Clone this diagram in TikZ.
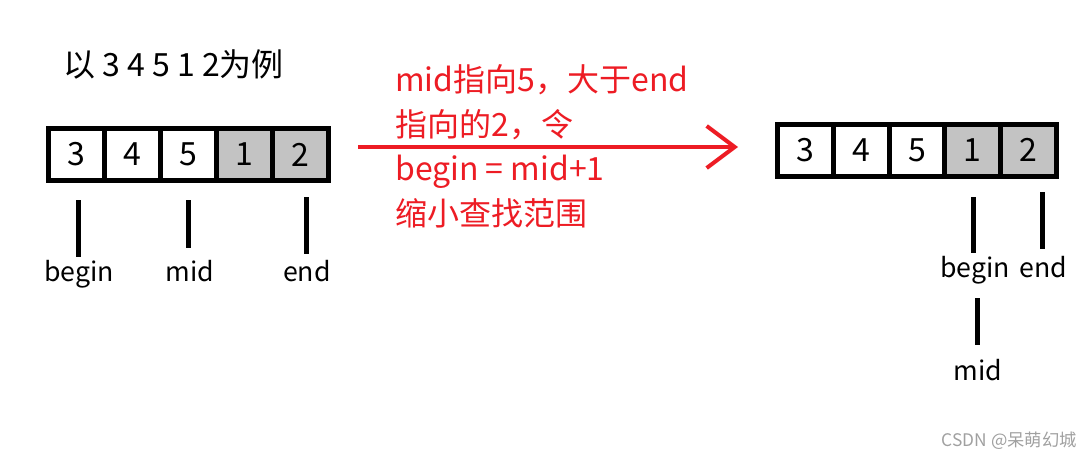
\documentclass[tikz,border=0pt]{standalone}
\usepackage{fontspec}
\setmainfont{Noto Sans CJK SC}
\usetikzlibrary{arrows.meta}
\definecolor{rosso}{RGB}{237,28,36}
\definecolor{grigio}{RGB}{195,195,195}
\definecolor{filigrana}{RGB}{160,160,160}
\begin{document}
\begin{tikzpicture}[x=0.75pt, y=-0.75pt,
        cella/.style={draw, line width=3.75pt, minimum width=42pt, minimum height=39pt, inner sep=0pt, font=\fontsize{24}{28}\selectfont},
        piena/.style={cella, fill=grigio},
        tacca/.style={line width=3.75pt},
        etichetta/.style={anchor=base, inner sep=0pt, font=\fontsize{20}{24}\selectfont},
        testo_rosso/.style={anchor=base west, inner sep=0pt, text=rosso, font=\fontsize{24}{28}\selectfont},
        freccia/.style={draw=rosso, line width=3pt, -{Straight Barb[length=21pt, width=31.5pt]}}]
        \useasboundingbox (0,0) rectangle (1092,460);

        % Titolo
        \node[anchor=base west, inner sep=0pt, font=\fontsize{24}{28}\selectfont] (titolo) at (63,77) {以 3 4 5 1 2为例};

        % Array di sinistra
        \node[cella] (s1_node) at (76.5,154.5) {3};
        \node[cella] (s2_node) at (132.5,154.5) {4};
        \node[cella] (s3_node) at (188.5,154.5) {5};
        \node[piena] (s4_node) at (244.5,154.5) {1};
        \node[piena] (s5_node) at (300.5,154.5) {2};

        % Puntatori di sinistra
        \coordinate (sb_top) at (78,200);
        \coordinate (sb_bot) at (78,257);
        \coordinate (sm_top) at (188,200);
        \coordinate (sm_bot) at (188,248);
        \coordinate (se_top) at (306,197);
        \coordinate (se_bot) at (306,254);
        \node[etichetta] (sbegin_node) at (79,281) {begin};
        \node[etichetta] (smid_node) at (190,281) {mid};
        \node[etichetta] (send_node) at (307,281) {end};
        \draw[tacca] (sb_top) -- (sb_bot);
        \draw[tacca] (sm_top) -- (sm_bot);
        \draw[tacca] (se_top) -- (se_bot);

        % Freccia e spiegazione
        \coordinate (fr_start) at (358,147);
        \coordinate (fr_end) at (738,147);
        \draw[freccia] (fr_start) -- (fr_end);
        \node[testo_rosso] (riga1) at (395,92) {mid指向5，大于end};
        \node[testo_rosso] (riga2) at (395,137) {指向的2，令};
        \node[testo_rosso] (riga3) at (395,180) {begin = mid+1};
        \node[testo_rosso] (riga4) at (395,225) {缩小查找范围};

        % Array di destra
        \node[cella] (d1_node) at (805.4,150) {3};
        \node[cella] (d2_node) at (861.2,150) {4};
        \node[cella] (d3_node) at (917,150) {5};
        \node[piena] (d4_node) at (972.8,150) {1};
        \node[piena] (d5_node) at (1028.6,150) {2};

        % Puntatori di destra
        \coordinate (db_top) at (973,197);
        \coordinate (db_bot) at (973,253);
        \coordinate (de_top) at (1042,192);
        \coordinate (de_bot) at (1042,249);
        \coordinate (dm_top) at (977,298);
        \coordinate (dm_bot) at (977,345);
        \node[etichetta] (dbegin_node) at (975,277) {begin};
        \node[etichetta] (dend_node) at (1043,277) {end};
        \node[etichetta] (dmid_node) at (978,380) {mid};
        \draw[tacca] (db_top) -- (db_bot);
        \draw[tacca] (de_top) -- (de_bot);
        \draw[tacca] (dm_top) -- (dm_bot);

        % Filigrana
        \node[anchor=base east, inner sep=0pt, text=filigrana, font=\fontsize{13}{15}\selectfont] (firma) at (1077,446) {CSDN @呆萌幻城};
    \end{tikzpicture}
\end{document}
